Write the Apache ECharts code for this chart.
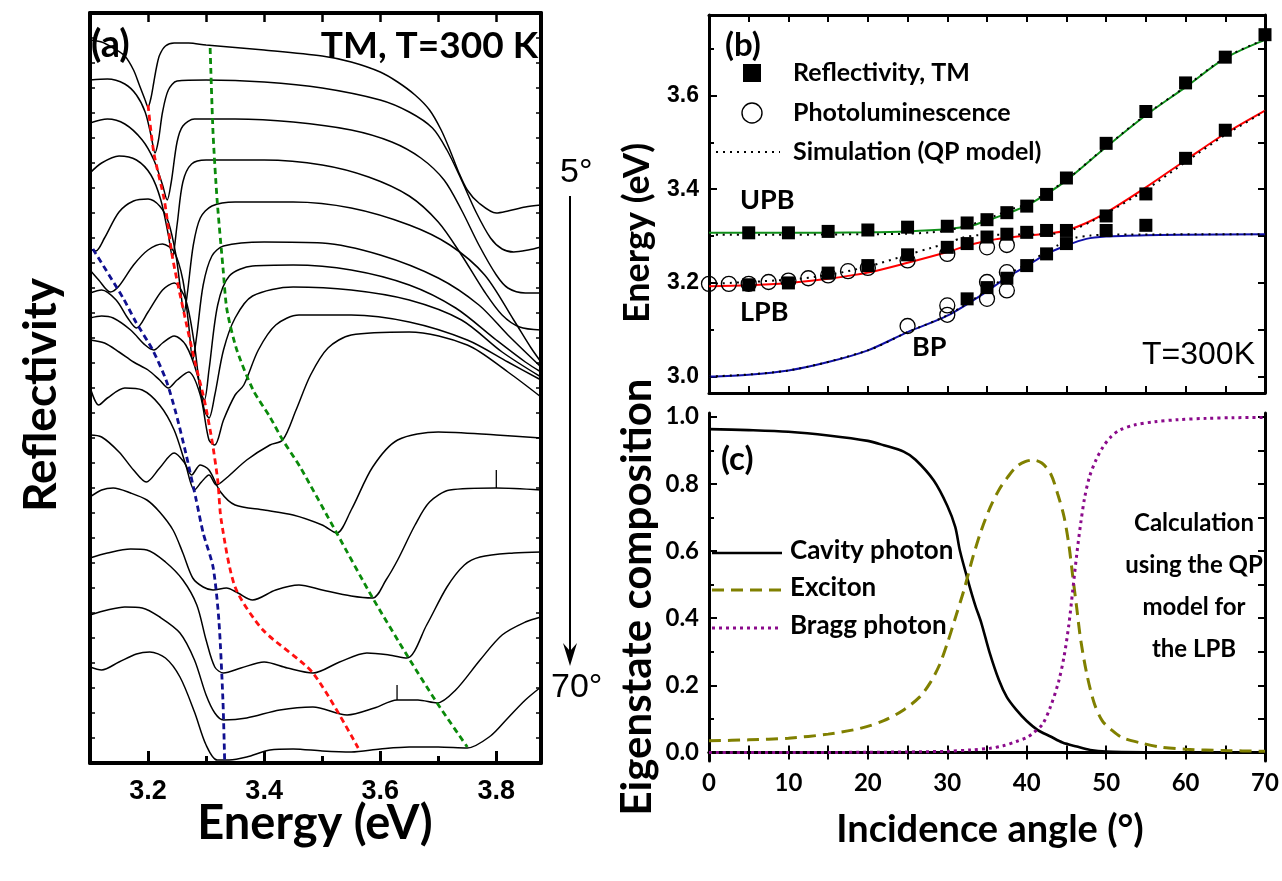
<!DOCTYPE html>
<html><head><meta charset="utf-8">
<script src="https://cdn.jsdelivr.net/npm/echarts@6.0.0/dist/echarts.min.js"></script>
<style>html,body{margin:0;padding:0;background:#fff}#c{width:1282px;height:881px}</style>
</head><body><div id="c"></div>
<script>
// ---------- Panel (a): reflectivity spectra (energy eV, reflectivity arb. units with offsets) ----------
const curve01 = [[3.100,723],[3.120,721],[3.140,715],[3.160,707],[3.175,693],[3.185,678],[3.195,663],[3.200,656],[3.205,665],[3.210,681],[3.215,697],[3.220,708],[3.230,717],[3.245,720],[3.270,720],[3.300,718],[3.400,713],[3.500,707],[3.550,701],[3.600,691],[3.630,681],[3.660,668],[3.685,653],[3.705,633],[3.720,613],[3.735,591],[3.750,573],[3.770,560],[3.800,550],[3.820,552],[3.850,556],[3.877,558]];
const curve02 = [[3.100,683],[3.130,684],[3.160,679],[3.180,668],[3.195,651],[3.205,628],[3.212,610],[3.218,623],[3.225,651],[3.235,673],[3.250,682],[3.300,683],[3.400,681],[3.500,675],[3.600,663],[3.650,651],[3.690,635],[3.715,613],[3.740,583],[3.765,551],[3.790,525],[3.810,514],[3.830,511],[3.855,513],[3.877,516]];
const curve03 = [[3.100,640],[3.130,644],[3.160,639],[3.190,623],[3.210,603],[3.225,578],[3.233,563],[3.240,581],[3.250,621],[3.260,637],[3.280,644],[3.350,644],[3.450,641],[3.550,633],[3.620,621],[3.670,605],[3.710,583],[3.740,553],[3.770,518],[3.800,488],[3.820,475],[3.850,470],[3.877,470]];
const curve04 = [[3.100,590],[3.120,600],[3.150,607],[3.180,603],[3.205,588],[3.222,563],[3.235,528],[3.242,506],[3.250,538],[3.260,581],[3.275,599],[3.300,603],[3.400,603],[3.500,598],[3.580,586],[3.650,567],[3.700,541],[3.740,508],[3.780,471],[3.810,448],[3.840,436],[3.877,433]];
const curve05 = [[3.100,514],[3.110,512],[3.125,525],[3.150,551],[3.175,562],[3.200,564],[3.220,557],[3.235,541],[3.248,508],[3.256,473],[3.262,450],[3.268,471],[3.278,518],[3.290,545],[3.310,557],[3.350,561],[3.450,561],[3.550,555],[3.650,538],[3.720,518],[3.780,488],[3.830,443],[3.860,415],[3.877,401]];
const curve06 = [[3.100,493],[3.115,483],[3.135,471],[3.150,477],[3.175,498],[3.200,513],[3.225,519],[3.245,511],[3.260,483],[3.270,438],[3.277,403],[3.284,428],[3.295,478],[3.310,507],[3.330,517],[3.400,521],[3.500,520],[3.600,508],[3.700,485],[3.770,458],[3.820,428],[3.877,396]];
const curve07 = [[3.100,470],[3.120,473],[3.145,463],[3.165,445],[3.180,435],[3.200,451],[3.225,473],[3.245,480],[3.265,463],[3.280,418],[3.290,373],[3.297,363],[3.305,393],[3.320,458],[3.340,487],[3.380,497],[3.450,498],[3.550,493],[3.650,478],[3.730,455],[3.800,423],[3.850,401],[3.877,391]];
const curve08 = [[3.100,445],[3.120,447],[3.140,445],[3.170,433],[3.195,418],[3.210,413],[3.225,420],[3.245,427],[3.265,418],[3.285,388],[3.297,353],[3.305,345],[3.315,368],[3.330,413],[3.350,445],[3.380,467],[3.450,476],[3.550,473],[3.650,463],[3.740,443],[3.810,411],[3.877,386]];
const curve09 = [[3.100,423],[3.125,420],[3.150,411],[3.175,401],[3.200,393],[3.220,383],[3.235,375],[3.250,383],[3.270,391],[3.290,368],[3.305,323],[3.315,318],[3.330,343],[3.350,368],[3.365,378],[3.390,413],[3.420,438],[3.460,448],[3.550,448],[3.650,441],[3.750,423],[3.820,401],[3.877,383]];
const curve10 = [[3.100,376],[3.115,358],[3.130,365],[3.160,375],[3.190,373],[3.220,358],[3.245,333],[3.265,298],[3.280,273],[3.292,281],[3.305,288],[3.318,278],[3.335,285],[3.370,303],[3.410,318],[3.432,323],[3.455,353],[3.480,388],[3.510,415],[3.550,428],[3.650,431],[3.750,418],[3.820,391],[3.877,366]];
const curve11 = [[3.100,328],[3.120,326],[3.150,311],[3.175,293],[3.197,281],[3.220,295],[3.245,310],[3.262,301],[3.275,288],[3.290,298],[3.305,293],[3.325,271],[3.350,258],[3.400,253],[3.450,248],[3.500,238],[3.525,230],[3.550,253],[3.587,296],[3.630,323],[3.700,331],[3.800,328],[3.877,325]];
const curve12 = [[3.100,266],[3.120,273],[3.140,275],[3.170,270],[3.198,263],[3.220,251],[3.243,233],[3.260,210],[3.277,185],[3.295,176],[3.312,173],[3.335,175],[3.355,170],[3.380,163],[3.420,173],[3.460,178],[3.500,173],[3.550,167],[3.587,165],[3.610,183],[3.630,203],[3.660,238],[3.685,261],[3.720,273],[3.800,275],[3.877,273]];
const curve13 = [[3.100,205],[3.130,210],[3.170,214],[3.198,213],[3.230,201],[3.260,183],[3.284,158],[3.300,123],[3.315,96],[3.330,90],[3.360,95],[3.400,101],[3.440,95],[3.484,90],[3.530,101],[3.577,110],[3.615,108],[3.646,105],[3.680,138],[3.715,176],[3.745,198],[3.772,206],[3.830,210],[3.877,211]];
const curve14 = [[3.100,148],[3.130,153],[3.160,156],[3.190,155],[3.220,146],[3.255,130],[3.280,103],[3.300,68],[3.315,50],[3.330,43],[3.370,45],[3.427,53],[3.484,56],[3.543,48],[3.590,55],[3.629,63],[3.665,63],[3.698,60],[3.730,73],[3.772,103],[3.810,128],[3.850,141],[3.877,146]];
const curve15 = [[3.100,96],[3.120,93],[3.150,101],[3.180,109],[3.203,111],[3.230,105],[3.255,86],[3.280,51],[3.300,18],[3.319,3],[3.340,3],[3.370,6],[3.410,13],[3.450,14],[3.500,12],[3.550,11],[3.600,14],[3.650,16],[3.700,16],[3.750,15],[3.790,27],[3.820,45],[3.850,63],[3.877,76]];
const spikeA = [[3.800,275],[3.800,293]];
const spikeB = [[3.629,63],[3.629,78]];
// guide lines through the dips
const guideLPB = [[3.200,658],[3.210,610],[3.228,563],[3.242,506],[3.262,450],[3.280,403],[3.297,363],[3.310,323],[3.320,283],[3.326,243],[3.350,176],[3.398,133],[3.484,90],[3.562,15]];
const guideUPB = [[3.307,715],[3.312,630],[3.319,563],[3.329,496],[3.336,453],[3.353,413],[3.381,373],[3.410,346],[3.432,323],[3.462,296],[3.525,230],[3.587,165],[3.648,106],[3.698,60],[3.750,16]];
const guideBP = [[3.105,514],[3.157,465],[3.179,441],[3.208,413],[3.231,383],[3.248,350],[3.265,310],[3.283,263],[3.295,230],[3.312,196],[3.322,143],[3.329,63],[3.332,2]];
const energyTicksMajor = [3.2,3.4,3.6,3.8];
const energyTicksMinor = [3.3,3.5,3.7];
const energyTicksTop = [3.2,3.3,3.4,3.5,3.6,3.7,3.8];

// ---------- Panel (b): dispersion (angle deg, energy eV) ----------
const fitUPB = [[0,3.307],[10,3.307],[20,3.308],[25,3.310],[30,3.315],[33,3.322],[35,3.333],[37.5,3.348],[40,3.365],[42.5,3.390],[45,3.419],[50,3.490],[55,3.558],[60,3.618],[65,3.680],[70,3.719]];
const fitLPB = [[0,3.193],[5,3.195],[10,3.200],[15,3.209],[20,3.222],[25,3.243],[30,3.266],[33,3.282],[36,3.293],[40,3.301],[43,3.306],[45,3.312],[47.5,3.328],[50,3.350],[55,3.404],[60,3.462],[65,3.519],[70,3.568]];
const fitBP = [[0,3.000],[5,3.004],[10,3.013],[15,3.031],[20,3.056],[25,3.095],[30,3.130],[35,3.182],[37.5,3.212],[40,3.236],[42.5,3.262],[45,3.280],[47.5,3.294],[50,3.299],[55,3.302],[60,3.303],[70,3.304]];
const qpUpper = [[0,3.303],[10,3.303],[20,3.304],[25,3.305],[28,3.308],[30,3.312],[32,3.320],[34,3.330],[36,3.343],[38,3.357],[40,3.368],[42.5,3.392],[45,3.420],[50,3.491],[55,3.559],[60,3.619],[65,3.681],[70,3.720]];
const qpMiddle = [[0,3.198],[10,3.207],[15,3.217],[20,3.235],[25,3.260],[28,3.275],[30,3.285],[32,3.297],[34,3.302],[38,3.303],[42,3.304],[44,3.306],[46,3.315],[48,3.330],[50,3.348],[55,3.399],[60,3.458],[65,3.516],[70,3.566]];
const qpLower = [[0,3.000],[10,3.013],[20,3.056],[25,3.095],[30,3.131],[35,3.184],[38,3.222],[40,3.240],[42,3.262],[44,3.281],[46,3.296],[48,3.301],[50,3.303],[70,3.304]];
const reflTM = [[5,3.307],[10,3.307],[15,3.310],[20,3.313],[25,3.319],[30,3.321],[32.5,3.328],[35,3.335],[37.5,3.350],[40,3.364],[42.5,3.389],[45,3.424],[50,3.498],[55,3.566],[60,3.627],[65,3.682],[70,3.730],
  [5,3.196],[10,3.200],[15,3.221],[20,3.237],[25,3.260],[30,3.276],[32.5,3.284],[35,3.298],[37.5,3.304],[40,3.308],[42.5,3.312],[45,3.312],[50,3.312],[50,3.343],[55,3.323],[55,3.390],[60,3.466],[65,3.526],
  [32.5,3.166],[35,3.190],[37.5,3.210],[40,3.237],[42.5,3.262],[45,3.284]];
const photolum = [[0,3.198],[2.5,3.198],[5,3.198],[7.5,3.202],[10,3.205],[12.5,3.210],[15,3.216],[17.5,3.225],[20,3.232],[25,3.248],[30,3.262],[35,3.276],[37.5,3.281],
  [25,3.108],[30,3.152],[30,3.132],[35,3.202],[35,3.166],[37.5,3.223],[37.5,3.184]];
const energyLabelsB = [3.0,3.2,3.4,3.6];
const energyMinorB = [3.1,3.3,3.5,3.7];

// ---------- Panel (c): eigenstate composition of LPB ----------
const cavityPhoton = [[0,0.963],[5,0.960],[10,0.955],[15,0.944],[20,0.928],[22,0.915],[24.5,0.896],[26,0.872],[28.3,0.810],[30,0.735],[31,0.672],[31.6,0.600],[32.7,0.504],[33.5,0.440],[34.3,0.385],[35.3,0.300],[36.5,0.216],[37.5,0.165],[38.7,0.127],[40,0.094],[41.4,0.067],[43,0.048],[44.5,0.030],[46.3,0.018],[48,0.008],[50,0.003],[55,0.001],[70,0.000]];
const exciton = [[0,0.035],[5,0.038],[10,0.043],[15,0.055],[19,0.072],[22,0.095],[24.5,0.127],[26.5,0.165],[27.8,0.206],[29,0.260],[30,0.325],[31,0.400],[32.1,0.484],[33.2,0.580],[34.3,0.663],[35.4,0.730],[36.5,0.782],[37.6,0.820],[38.7,0.851],[39.8,0.866],[40.8,0.871],[41.9,0.862],[43,0.831],[43.9,0.770],[44.7,0.702],[45.3,0.620],[45.8,0.524],[46.3,0.430],[46.8,0.335],[47.6,0.230],[48.5,0.147],[49.5,0.095],[50.7,0.067],[52,0.045],[54.5,0.028],[57,0.016],[60,0.010],[65,0.006],[70,0.004]];
const braggPhoton = [[0,0.000],[10,0.000],[20,0.001],[25,0.002],[30,0.004],[33,0.008],[35.4,0.013],[37,0.020],[38.7,0.033],[40,0.045],[40.8,0.058],[42,0.085],[43,0.137],[44,0.210],[44.7,0.286],[45.3,0.380],[45.8,0.484],[46.3,0.590],[46.8,0.683],[47.3,0.760],[47.9,0.821],[48.7,0.870],[49.6,0.910],[50.6,0.940],[51.7,0.960],[53.5,0.975],[56.1,0.985],[59,0.991],[62.6,0.995],[66,0.997],[70,0.998]];
const compLabels = [0,0.2,0.4,0.6,0.8,1.0];
const compMinor = [0.1,0.3,0.5,0.7,0.9];

const spectra = [curve01,curve02,curve03,curve04,curve05,curve06,curve07,curve08,curve09,curve10,curve11,curve12,curve13,curve14,curve15];

const CAL = 'Lato, "Open Sans", sans-serif';
const ARI = '"Liberation Sans", Arial, sans-serif';
const K = '#000';

const chart = echarts.init(document.getElementById('c'), null, {renderer:'canvas'});

function hidden(extra){ return Object.assign({splitLine:{show:false}, axisLabel:{show:false}}, extra); }

const xAxis = [
  {gridIndex:0, type:'value', min:3.1, max:3.877, position:'bottom', splitLine:{show:false},
   axisLine:{lineStyle:{color:K,width:4}},
   axisTick:{inside:true,length:12,lineStyle:{color:K,width:3},customValues:energyTicksMajor},
   axisLabel:{customValues:energyTicksMajor,color:K,fontFamily:ARI,fontWeight:'bold',fontSize:27,margin:15,formatter:v=>v.toFixed(1)}},
  hidden({gridIndex:0, type:'value', min:3.1, max:3.877, position:'bottom',
   axisLine:{show:false}, axisTick:{inside:true,length:7,lineStyle:{color:K,width:3},customValues:energyTicksMinor}}),
  hidden({gridIndex:0, type:'value', min:3.1, max:3.877, position:'top',
   axisLine:{lineStyle:{color:K,width:4}}, axisTick:{inside:true,length:9,lineStyle:{color:K,width:2.5},customValues:energyTicksTop}}),
  hidden({gridIndex:1, type:'value', min:0, max:70, interval:5, position:'bottom',
   axisLine:{lineStyle:{color:K,width:3}}, axisTick:{inside:true,length:7,lineStyle:{color:K,width:2}}}),
  hidden({gridIndex:1, type:'value', min:0, max:70, interval:5, position:'top',
   axisLine:{lineStyle:{color:K,width:3}}, axisTick:{inside:true,length:7,lineStyle:{color:K,width:2}}}),
  {gridIndex:2, type:'value', min:0, max:70, interval:5, position:'bottom', splitLine:{show:false},
   axisLine:{lineStyle:{color:K,width:3}}, axisTick:{inside:true,length:7,lineStyle:{color:K,width:2}},
   axisLabel:{color:K,fontFamily:CAL,fontWeight:'bold',fontSize:24,margin:10,formatter:v=>(v%10===0?String(v):'')}},
  hidden({gridIndex:2, type:'value', min:0, max:70, interval:5, position:'top',
   axisLine:{lineStyle:{color:K,width:3}}, axisTick:{inside:true,length:7,lineStyle:{color:K,width:2}}})
];

const yAxis = [
  hidden({gridIndex:0, type:'value', min:0, max:750, interval:25, position:'left',
   axisLine:{lineStyle:{color:K,width:4}}, axisTick:{inside:true,length:5,lineStyle:{color:K,width:1.5}}}),
  hidden({gridIndex:0, type:'value', min:0, max:750, interval:25, position:'right',
   axisLine:{lineStyle:{color:K,width:4}}, axisTick:{inside:true,length:5,lineStyle:{color:K,width:1.5}}}),
  {gridIndex:1, type:'value', min:2.965, max:3.772, position:'left', splitLine:{show:false},
   axisLine:{lineStyle:{color:K,width:3}}, axisTick:{inside:true,length:8,lineStyle:{color:K,width:2},customValues:energyLabelsB},
   axisLabel:{customValues:energyLabelsB,color:K,fontFamily:ARI,fontWeight:'bold',fontSize:23,margin:10,formatter:v=>v.toFixed(1)}},
  hidden({gridIndex:1, type:'value', min:2.965, max:3.772, position:'left',
   axisLine:{show:false}, axisTick:{inside:true,length:5,lineStyle:{color:K,width:2},customValues:energyMinorB}}),
  hidden({gridIndex:1, type:'value', min:2.965, max:3.772, position:'right',
   axisLine:{lineStyle:{color:K,width:3}}, axisTick:{inside:true,length:7,lineStyle:{color:K,width:2},customValues:energyLabelsB.concat(energyMinorB)}}),
  {gridIndex:2, type:'value', min:-0.025, max:1.011, position:'left', splitLine:{show:false},
   axisLine:{lineStyle:{color:K,width:3}}, axisTick:{inside:true,length:8,lineStyle:{color:K,width:2},customValues:compLabels},
   axisLabel:{customValues:compLabels,color:K,fontFamily:CAL,fontWeight:'bold',fontSize:24,margin:10,formatter:v=>v.toFixed(1)}},
  hidden({gridIndex:2, type:'value', min:-0.025, max:1.011, position:'left',
   axisLine:{show:false}, axisTick:{inside:true,length:5,lineStyle:{color:K,width:2},customValues:compMinor}}),
  hidden({gridIndex:2, type:'value', min:-0.025, max:1.011, position:'right',
   axisLine:{lineStyle:{color:K,width:3}}, axisTick:{inside:true,length:7,lineStyle:{color:K,width:2},customValues:compLabels.concat(compMinor)}})
];

const series = [];
spectra.forEach((d,i)=>{
  series.push({type:'line', name:'spectrum'+(i+1), xAxisIndex:0, yAxisIndex:0, data:d, smooth:0.3,
    showSymbol:false, lineStyle:{color:K,width:1.5}, z:3});
});
[spikeA,spikeB].forEach(d=>series.push({type:'line',xAxisIndex:0,yAxisIndex:0,data:d,showSymbol:false,lineStyle:{color:K,width:1.3},z:3}));
[[guideLPB,'#ff1010'],[guideUPB,'#0a8a0a'],[guideBP,'#101090']].forEach(([d,c])=>{
  series.push({type:'line', xAxisIndex:0, yAxisIndex:0, data:d, smooth:0.25, showSymbol:false,
    lineStyle:{color:c,width:2.8,type:[6,4]}, z:4});
});
[[fitUPB,'#10901a'],[fitLPB,'#ff0000'],[fitBP,'#1010a8']].forEach(([d,c])=>{
  series.push({type:'line', xAxisIndex:3, yAxisIndex:2, data:d, smooth:0.3, showSymbol:false,
    lineStyle:{color:c,width:2}, z:3});
});
[qpUpper,qpMiddle,qpLower].forEach(d=>{
  series.push({type:'line', name:'Simulation (QP model)', xAxisIndex:3, yAxisIndex:2, data:d, smooth:0.3, showSymbol:false,
    lineStyle:{color:K,width:2,type:[2,5]}, z:4});
});
series.push({type:'scatter', name:'Reflectivity, TM', xAxisIndex:3, yAxisIndex:2, data:reflTM, symbol:'rect', symbolSize:13,
  itemStyle:{color:K,opacity:1}, z:5});
series.push({type:'scatter', name:'Photoluminescence', xAxisIndex:3, yAxisIndex:2, data:photolum, symbol:'circle', symbolSize:15,
  itemStyle:{color:'rgba(0,0,0,0)',borderColor:K,borderWidth:1.3,opacity:1}, z:6});
series.push({type:'line', name:'Cavity photon', xAxisIndex:5, yAxisIndex:5, data:cavityPhoton, smooth:0.3, showSymbol:false,
  lineStyle:{color:K,width:2.6}});
series.push({type:'line', name:'Exciton', xAxisIndex:5, yAxisIndex:5, data:exciton, smooth:0.3, showSymbol:false,
  lineStyle:{color:'#808000',width:3,type:[12,7]}});
series.push({type:'line', name:'Bragg photon', xAxisIndex:5, yAxisIndex:5, data:braggPhoton, smooth:0.3, showSymbol:false,
  lineStyle:{color:'#8b0a8b',width:3,type:[3,4]}});

function txt(text,x,y,font,opts){
  return {type:'text', x:x, y:y, z:20, style:Object.assign({text:text, font:font, fill:K, textAlign:'left', textVerticalAlign:'middle'}, opts||{})};
}
function rtxt(text,x,y,font){
  return {type:'text', x:x, y:y, rotation:Math.PI/2, z:20, style:{text:text, font:font, fill:K, textAlign:'center', textVerticalAlign:'middle'}};
}

const graphic = [
  rtxt('Reflectivity', 41, 395, 'bold 46px '+CAL),
  txt('Energy (eV)', 315, 824, 'bold 47px '+CAL, {textAlign:'center'}),
  txt('(a)', 91, 45, 'bold 38px '+CAL),
  txt('TM, T=300 K', 538, 46, 'bold 37px '+CAL, {textAlign:'right'}),
  txt('5°', 560, 173, '34px '+ARI),
  txt('70°', 551, 688, '34px '+ARI),
  {type:'line', z:20, shape:{x1:570,y1:196,x2:570,y2:655}, style:{stroke:K,lineWidth:2}},
  {type:'polygon', z:20, shape:{points:[[563,643],[570,666],[577,643],[570,651]]}, style:{fill:K}},
  rtxt('Energy (eV)', 637, 233, 'bold 36px '+CAL),
  rtxt('Eigenstate composition', 637, 597, 'bold 42px '+CAL),
  txt('Incidence angle (°)', 990, 830, 'bold 38px '+CAL, {textAlign:'center'}),
  txt('(b)', 725, 45, 'bold 33px '+CAL),
  {type:'rect', z:20, shape:{x:743,y:64,width:18,height:18}, style:{fill:K}},
  txt('Reflectivity, TM', 793, 73, 'bold 25px '+CAL),
  {type:'circle', z:20, shape:{cx:752,cy:113,r:10}, style:{fill:'none',stroke:K,lineWidth:1.4}},
  txt('Photoluminescence', 793, 113, 'bold 25px '+CAL),
  {type:'line', z:20, shape:{x1:716,y1:152,x2:780,y2:152}, style:{stroke:K,lineWidth:2,lineDash:[2,5]}},
  txt('Simulation (QP model)', 793, 152, 'bold 25px '+CAL),
  txt('UPB', 740, 200, 'bold 27px '+CAL),
  txt('LPB', 740, 312, 'bold 27px '+CAL),
  txt('BP', 912, 347, 'bold 27px '+CAL),
  txt('T=300K', 1255, 355, '32px '+ARI, {textAlign:'right'}),
  txt('(c)', 721, 459, 'bold 33px '+CAL),
  {type:'line', z:20, shape:{x1:712,y1:553,x2:782,y2:553}, style:{stroke:K,lineWidth:2.6}},
  txt('Cavity photon', 790, 551, 'bold 26px '+CAL),
  {type:'line', z:20, shape:{x1:712,y1:590,x2:782,y2:590}, style:{stroke:'#808000',lineWidth:3,lineDash:[12,7]}},
  txt('Exciton', 790, 588, 'bold 26px '+CAL),
  {type:'line', z:20, shape:{x1:712,y1:628,x2:782,y2:628}, style:{stroke:'#8b0a8b',lineWidth:3,lineDash:[3,4]}},
  txt('Bragg photon', 790, 626, 'bold 26px '+CAL),
  txt('Calculation', 1194, 523, 'bold 24px '+CAL, {textAlign:'center'}),
  txt('using the QP', 1194, 565, 'bold 24px '+CAL, {textAlign:'center'}),
  txt('model for', 1194, 607, 'bold 24px '+CAL, {textAlign:'center'}),
  txt('the LPB', 1194, 649, 'bold 24px '+CAL, {textAlign:'center'})
];

chart.setOption({
  animation:false,
  backgroundColor:'#fff',
  grid:[
    {left:90, top:13, width:451, height:750},
    {left:709, top:15, width:556, height:378},
    {left:709, top:413, width:556, height:348}
  ],
  xAxis:xAxis, yAxis:yAxis, series:series, graphic:graphic
});
</script></body></html>
